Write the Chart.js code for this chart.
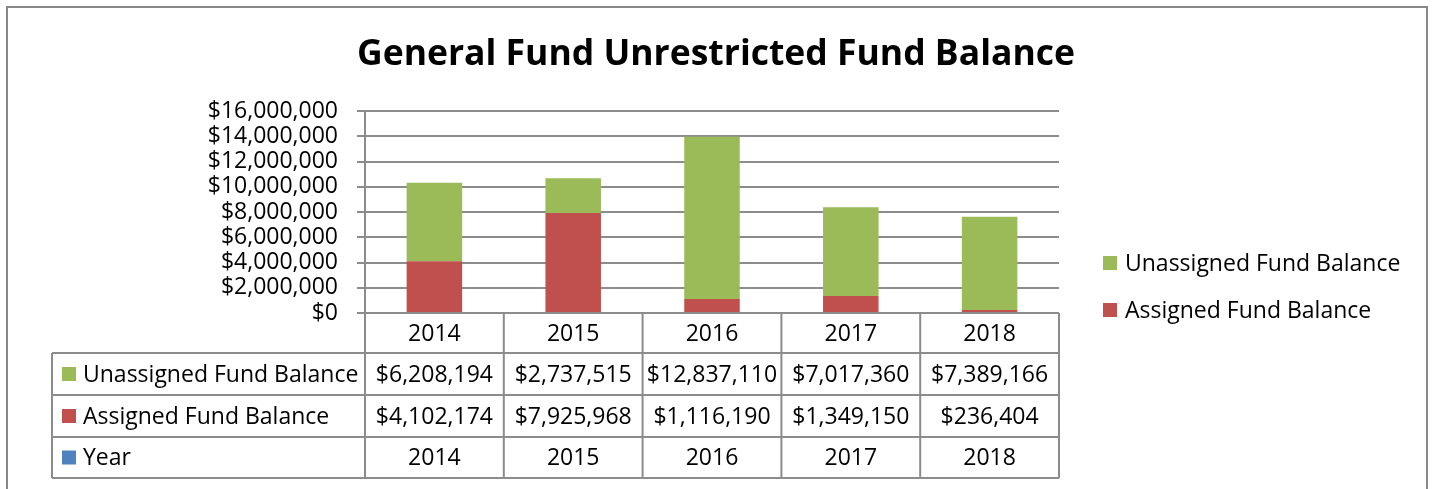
<!DOCTYPE html>
<html>
<head>
<meta charset="utf-8">
<script src="https://cdn.jsdelivr.net/npm/chart.js@4"></script>
<style>
html,body{margin:0;padding:0;background:#fff;}
#wrap{width:1433px;height:489px;}
</style>
</head>
<body>
<div id="wrap"><canvas id="c" width="1433" height="489"></canvas></div>
<script>
const chartTitle = 'General Fund Unrestricted Fund Balance';
const years = ['2014', '2015', '2016', '2017', '2018'];
const unassigned = [6208194, 2737515, 12837110, 7017360, 7389166];
const assigned = [4102174, 7925968, 1116190, 1349150, 236404];
const seriesNames = ['Unassigned Fund Balance', 'Assigned Fund Balance', 'Year'];
const seriesColors = ['#9BBB59', '#C0504D', '#4F81BD'];
const yTickMax = 16000000;
const yTickStep = 2000000;

const FONT = '"Open Sans", "Liberation Sans", sans-serif';
const FSIZE = 23;
const GRID = '#8c8c8c';
const money = v => '$' + Number(v).toLocaleString('en-US');

const framePlugin = {
  id: 'frameAndTable',
  afterDraw(chart) {
    const ctx = chart.ctx;
    const xs = chart.scales.x;
    const area = chart.chartArea;
    ctx.save();
    ctx.strokeStyle = '#888888';
    ctx.lineWidth = 2;
    ctx.beginPath();
    ctx.moveTo(7, 495); ctx.lineTo(7, 7); ctx.lineTo(1427, 7); ctx.lineTo(1427, 495);
    ctx.stroke();

    ctx.fillStyle = '#000';
    ctx.font = 'bold 35.5px ' + FONT;
    ctx.textAlign = 'center';
    ctx.textBaseline = 'middle';
    ctx.fillText(chartTitle, 716, 55);

    const n = years.length;
    const colW = (xs.right - xs.left) / n;
    const top = area.bottom;
    const rowH = [40, 42, 42, 41];
    const rowY = [top];
    rowH.forEach(h => rowY.push(rowY[rowY.length - 1] + h));
    const tableLeft = 52;
    ctx.strokeStyle = GRID;
    ctx.lineWidth = 2;
    ctx.beginPath();
    ctx.moveTo(xs.left, rowY[0]); ctx.lineTo(xs.right, rowY[0]);
    for (let r = 1; r < rowY.length; r++) {
      ctx.moveTo(tableLeft, rowY[r]); ctx.lineTo(xs.right, rowY[r]);
    }
    ctx.moveTo(tableLeft, rowY[1]); ctx.lineTo(tableLeft, rowY[4]);
    for (let i = 0; i <= n; i++) {
      const x = xs.left + i * colW;
      ctx.moveTo(x, rowY[0]); ctx.lineTo(x, rowY[4]);
    }
    ctx.stroke();

    ctx.font = FSIZE + 'px ' + FONT;
    ctx.fillStyle = '#000';
    ctx.textBaseline = 'middle';
    ctx.textAlign = 'center';
    const rows = [years, unassigned.map(money), assigned.map(money), years];
    for (let r = 0; r < rows.length; r++) {
      const cy = (rowY[r] + rowY[r + 1]) / 2 + 1;
      for (let i = 0; i < n; i++) {
        ctx.fillText(rows[r][i], xs.getPixelForValue(i), cy);
      }
    }
    ctx.textAlign = 'left';
    for (let r = 1; r < 4; r++) {
      const cy = (rowY[r] + rowY[r + 1]) / 2;
      ctx.fillStyle = seriesColors[r - 1];
      ctx.fillRect(62, cy - 7, 14, 14);
      ctx.fillStyle = '#000';
      ctx.fillText(seriesNames[r - 1], 83, cy + 1);
    }

    const legY = [263, 310];
    for (let k = 0; k < 2; k++) {
      ctx.fillStyle = seriesColors[k];
      ctx.fillRect(1103, legY[k] - 7, 14, 14);
      ctx.fillStyle = '#000';
      ctx.fillText(seriesNames[k], 1125, legY[k] + 1);
    }
    ctx.restore();
  }
};

new Chart(document.getElementById('c'), {
  type: 'bar',
  data: {
    labels: years,
    datasets: [
      { label: seriesNames[1], data: assigned, backgroundColor: seriesColors[1], barPercentage: 0.4, categoryPercentage: 1.0 },
      { label: seriesNames[0], data: unassigned, backgroundColor: seriesColors[0], barPercentage: 0.4, categoryPercentage: 1.0 }
    ]
  },
  options: {
    responsive: false,
    animation: false,
    devicePixelRatio: 1,
    layout: { padding: { left: 0, right: 374, top: 111, bottom: 176 } },
    plugins: { legend: { display: false }, title: { display: false }, tooltip: { enabled: false } },
    scales: {
      x: { stacked: true, display: false, offset: true },
      y: {
        stacked: true,
        min: 0, max: yTickMax,
        afterFit: s => { s.width = 365; },
        afterBuildTicks: s => {
          const t = [];
          for (let v = 0; v <= yTickMax; v += yTickStep) t.push({ value: v });
          s.ticks = t;
        },
        ticks: { stepSize: yTickStep, autoSkip: false, callback: v => money(v), color: '#000', font: { family: FONT, size: FSIZE, lineHeight: 1 }, padding: 19 },
        grid: { color: GRID, lineWidth: 2, tickLength: 8, drawTicks: true },
        border: { display: true, color: GRID, width: 2 }
      }
    }
  },
  plugins: [framePlugin]
});
</script>
</body>
</html>
